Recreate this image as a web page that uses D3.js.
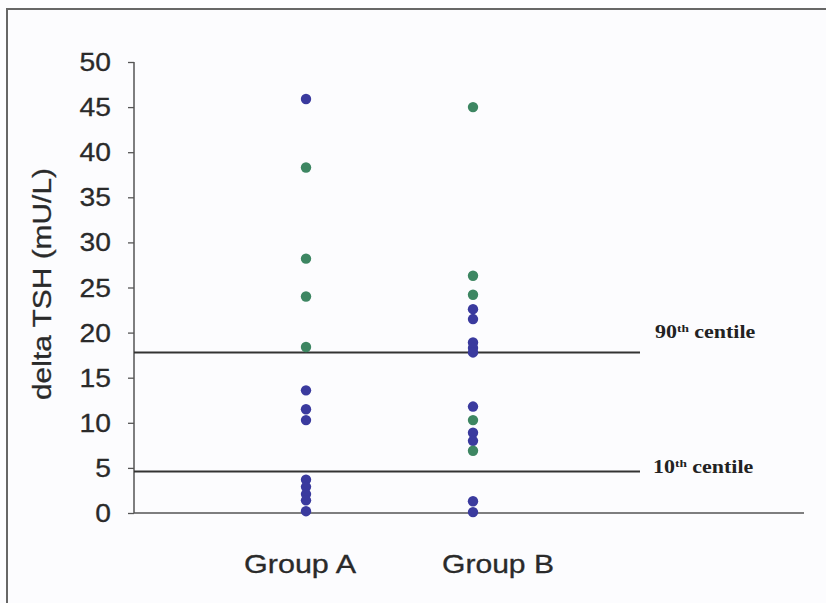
<!DOCTYPE html>
<html>
<head>
<meta charset="utf-8">
<script src="https://cdn.jsdelivr.net/npm/d3@7"></script>
<style>
  html, body { margin: 0; padding: 0; background: #fcfcfe; }
  svg { display: block; }
</style>
</head>
<body>
<svg id="chart" width="826" height="603"></svg>
<script>
// ---- data ----
const categories = ["Group A", "Group B"];
const groupABlue  = [45.9, 13.6, 11.5, 10.3, 3.7, 2.9, 2.1, 1.4, 0.2];
const groupAGreen = [38.3, 28.2, 24.0, 18.4];
const groupBBlue  = [22.6, 21.5, 18.9, 18.3, 17.8, 11.8, 8.9, 8.0, 1.3, 0.1];
const groupBGreen = [45.0, 26.3, 24.2, 10.3, 6.9];
const yTicks = [0, 5, 10, 15, 20, 25, 30, 35, 40, 45, 50];
const centiles = [
  { name: "90", value: 17.8 },
  { name: "10", value: 4.6 }
];
const yTitle = "delta TSH (mU/L)";

// ---- drawing ----
const svg = d3.select("#chart");
const blue = "#3a3a9e", green = "#3d8662", axisCol = "#555", textCol = "#2a2a2a";

const y = d3.scaleLinear().domain([0, 50]).range([513, 62]);
const x = d3.scalePoint().domain(categories).range([306, 473]);
const xAxisEnd = 804, yAxisX = 134;

// frame (scanned border)
svg.append("line").attr("x1", 7).attr("x2", 7).attr("y1", 8).attr("y2", 603)
  .attr("stroke", "#666").attr("stroke-width", 2);
svg.append("line").attr("x1", 6).attr("x2", 826).attr("y1", 9).attr("y2", 9)
  .attr("stroke", "#666").attr("stroke-width", 2);

// y axis
const yAxis = d3.axisLeft(y).tickValues(yTicks).tickSize(6).tickPadding(0).tickFormat(() => "");
const gy = svg.append("g").attr("transform", `translate(${yAxisX},0)`).call(yAxis);
gy.select(".domain").remove();
gy.selectAll(".tick line").attr("stroke", axisCol).attr("stroke-width", 1.3);
svg.append("line").attr("x1", yAxisX).attr("x2", yAxisX).attr("y1", y(50)).attr("y2", y(0))
  .attr("stroke", axisCol).attr("stroke-width", 1.5);

// tick labels (slightly stretched like the scan)
svg.append("g").selectAll("text").data(yTicks).join("text")
  .attr("transform", d => `translate(111,${y(d)}) scale(1.13,1)`)
  .attr("text-anchor", "end")
  .attr("dy", "0.36em")
  .attr("font-family", "Liberation Sans, Arial, sans-serif")
  .attr("font-size", 25)
  .attr("fill", textCol)
  .attr("stroke", textCol).attr("stroke-width", 0.3)
  .text(d => d);

// x axis line
svg.append("line").attr("x1", yAxisX).attr("x2", xAxisEnd).attr("y1", y(0)).attr("y2", y(0))
  .attr("stroke", axisCol).attr("stroke-width", 1.5);

// y title
svg.append("text")
  .attr("transform", `translate(51,${284}) rotate(-90)`)
  .attr("text-anchor", "middle")
  .attr("font-family", "Liberation Sans, Arial, sans-serif")
  .attr("font-size", 26)
  .attr("fill", textCol)
  .attr("stroke", textCol).attr("stroke-width", 0.3)
  .attr("textLength", 232)
  .attr("lengthAdjust", "spacingAndGlyphs")
  .text(yTitle);

// group labels
const labelShift = { "Group A": -6, "Group B": 25 };
svg.append("g").selectAll("text").data(categories).join("text")
  .attr("x", d => x(d) + labelShift[d])
  .attr("y", 573)
  .attr("text-anchor", "middle")
  .attr("font-family", "Liberation Sans, Arial, sans-serif")
  .attr("font-size", 25.5)
  .attr("fill", textCol)
  .attr("stroke", textCol).attr("stroke-width", 0.3)
  .attr("textLength", 112)
  .attr("lengthAdjust", "spacingAndGlyphs")
  .text(d => d);

// centile lines
svg.append("g").selectAll("line").data(centiles).join("line")
  .attr("x1", yAxisX).attr("x2", 640)
  .attr("y1", d => y(d.value)).attr("y2", d => y(d.value))
  .attr("stroke", "#333").attr("stroke-width", 2);

// centile labels
const cl = svg.append("g").selectAll("text").data(centiles).join("text")
  .attr("transform", d => d.name === "90"
      ? `translate(655,338) scale(1.22,1)`
      : `translate(653,473) scale(1.22,1)`)
  .attr("font-family", "Liberation Serif, Times New Roman, serif")
  .attr("font-weight", "bold")
  .attr("font-size", 18)
  .attr("fill", "#222");
cl.append("tspan").text(d => d.name);
cl.append("tspan").attr("font-size", 11).attr("dy", -6).text("th");
cl.append("tspan").attr("dy", 6).text(" centile");

// points
const points = [];
groupABlue.forEach(v => points.push({ cat: "Group A", v, c: blue }));
groupAGreen.forEach(v => points.push({ cat: "Group A", v, c: green }));
groupBBlue.forEach(v => points.push({ cat: "Group B", v, c: blue }));
groupBGreen.forEach(v => points.push({ cat: "Group B", v, c: green }));

svg.append("g").selectAll("circle").data(points).join("circle")
  .attr("cx", d => x(d.cat))
  .attr("cy", d => y(d.v))
  .attr("r", 5.2)
  .attr("fill", d => d.c);
</script>
</body>
</html>
